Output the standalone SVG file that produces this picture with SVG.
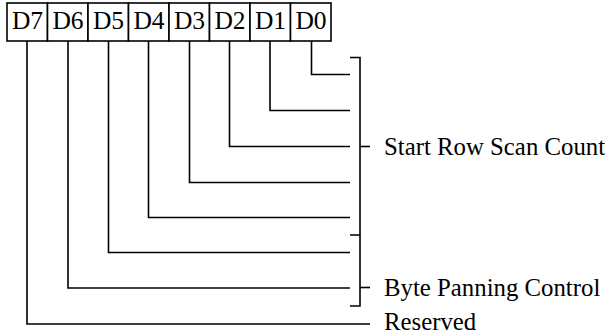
<svg xmlns="http://www.w3.org/2000/svg" width="615" height="336" viewBox="0 0 615 336">
<style>
.box{fill:#fff;stroke:#000;stroke-width:1.6}
.t{font-family:"Liberation Serif","Times New Roman",serif;font-size:24.8px;fill:#000}
.b{font-size:25.5px;text-anchor:middle}
.ln{fill:none;stroke:#000;stroke-width:1.6}
</style>
<rect width="615" height="336" fill="#fff"/>
<g id="register">
<g id="bit-D7"><rect class="box" x="7" y="3" width="40.5" height="38"/><text class="t b" x="27.5" y="29">D7</text></g>
<g id="bit-D6"><rect class="box" x="47.5" y="3" width="40.5" height="38"/><text class="t b" x="68" y="29">D6</text></g>
<g id="bit-D5"><rect class="box" x="88" y="3" width="40.5" height="38"/><text class="t b" x="108.5" y="29">D5</text></g>
<g id="bit-D4"><rect class="box" x="128.5" y="3" width="40.5" height="38"/><text class="t b" x="149" y="29">D4</text></g>
<g id="bit-D3"><rect class="box" x="169" y="3" width="40.5" height="38"/><text class="t b" x="189.5" y="29">D3</text></g>
<g id="bit-D2"><rect class="box" x="209.5" y="3" width="40.5" height="38"/><text class="t b" x="230" y="29">D2</text></g>
<g id="bit-D1"><rect class="box" x="250" y="3" width="40.5" height="38"/><text class="t b" x="270.5" y="29">D1</text></g>
<g id="bit-D0"><rect class="box" x="290.5" y="3" width="40.5" height="38"/><text class="t b" x="311" y="29">D0</text></g>
</g>
<g id="connectors">
<path class="ln" d="M311.5 41 V74.5 H350"/>
<path class="ln" d="M270 41 V110.5 H350"/>
<path class="ln" d="M229.5 41 V146.5 H350"/>
<path class="ln" d="M189.5 41 V182.5 H350"/>
<path class="ln" d="M148.5 41 V217.5 H350"/>
<path class="ln" d="M108.5 41 V252.5 H350"/>
<path class="ln" d="M68 41 V288 H350"/>
<path class="ln" d="M27 41 V324 H370"/>
</g>
<g id="bracket-start-row">
<path class="ln" d="M350 57.5 H360 V235"/>
<path class="ln" d="M360 146.5 H370"/>
<text class="t" x="384" y="155">Start Row Scan Count</text>
</g>
<g id="bracket-byte-panning">
<path class="ln" d="M350 235 H360 V306 H350"/>
<path class="ln" d="M360 287.5 H370"/>
<text class="t" x="384" y="295.5">Byte Panning Control</text>
</g>
<g id="label-reserved">
<text class="t" x="384" y="330">Reserved</text>
</g>
</svg>
